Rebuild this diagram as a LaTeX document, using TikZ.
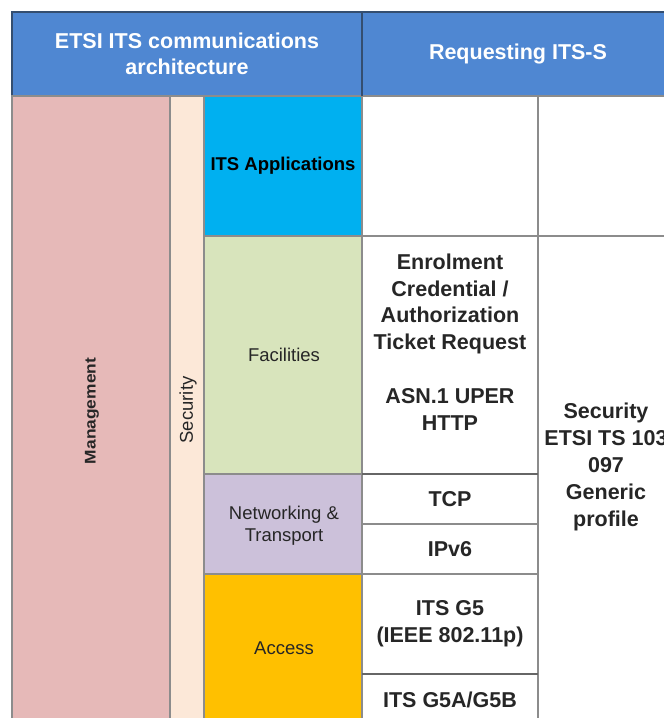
\documentclass[tikz,border=0pt]{standalone}
\usepackage{fontspec}
\setmainfont{Liberation Sans}
\definecolor{hdrblue}{RGB}{79,135,210}
\definecolor{hdrline}{RGB}{52,78,112}
\definecolor{gridgray}{RGB}{140,140,140}
\definecolor{mgmtpink}{RGB}{230,185,184}
\definecolor{secpeach}{RGB}{252,232,216}
\definecolor{appcyan}{RGB}{0,176,240}
\definecolor{facgreen}{RGB}{216,228,188}
\definecolor{netpurple}{RGB}{204,193,218}
\definecolor{accyellow}{RGB}{255,192,0}
\definecolor{txtdark}{RGB}{38,38,38}
\begin{document}
\begin{tikzpicture}[x=1pt,y=-1pt,
  cell/.style={draw=gridgray, line width=1.3pt, inner sep=0pt, outer sep=0pt, anchor=north west},
  hdr/.style={cell, draw=hdrline, fill=hdrblue, text=white, align=center,
    font=\fontsize{21.5}{26}\selectfont\bfseries},
  layer/.style={text=txtdark, align=center, font=\fontsize{18.5}{22}\selectfont},
  proto/.style={text=txtdark, align=center, font=\fontsize{21.5}{26.8}\selectfont\bfseries}]
\useasboundingbox (0,0) rectangle (664,718);
\clip (0,0) rectangle (664,718);
\fill[white] (0,0) rectangle (664,718);
% header
\node[hdr, minimum width=350pt, minimum height=84pt] (h1) at (12,12) {ETSI ITS communications\\architecture};
\node[hdr, minimum width=330pt, minimum height=84pt] (h2) at (362,12) {};
\node[hdr, draw=none, fill=none, anchor=center] (h2t) at (518,54) {Requesting ITS-S};
% left columns
\node[cell, fill=mgmtpink, minimum width=158pt, minimum height=628pt] (mgmt) at (12,96) {};
\node[text=txtdark, rotate=90, font=\fontsize{15.5}{18}\selectfont\bfseries] (mgmtt) at (92,411) {\scalebox{1.12}[1]{Management}};
\node[cell, fill=secpeach, minimum width=34pt, minimum height=628pt] (sec) at (170,96) {};
\node[layer, rotate=90] (sect) at (188,410) {Security};
% layers
\node[cell, fill=appcyan, minimum width=158pt, minimum height=140pt, text=black, font=\fontsize{18.5}{22}\selectfont\bfseries] (apps) at (204,96) {ITS Applications};
\node[cell, fill=facgreen, minimum width=158pt, minimum height=238pt] (fac) at (204,236) {};
\node[layer] (fact) at (284,355) {Facilities};
\node[cell, fill=netpurple, minimum width=158pt, minimum height=100pt] (net) at (204,474) {};
\node[layer] (nett) at (284,526) {Networking \&\\Transport};
\node[cell, fill=accyellow, minimum width=158pt, minimum height=148pt] (acc) at (204,574) {};
\node[layer] (acct) at (284,648) {Access};
% requesting ITS-S column
\node[cell, fill=white, minimum width=176pt, minimum height=140pt] (c4a) at (362,96) {};
\node[cell, fill=white, minimum width=176pt, minimum height=238pt] (enrol) at (362,236) {};
\node[proto] (enrolt) at (450,342) {Enrolment\\Credential /\\Authorization\\Ticket Request\\[26.8pt]ASN.1 UPER\\HTTP};
\node[cell, fill=white, minimum width=176pt, minimum height=50pt, proto] (tcp) at (362,474) {TCP};
\node[cell, fill=white, minimum width=176pt, minimum height=50pt, proto] (ipv6) at (362,524) {IPv6};
\node[cell, fill=white, minimum width=176pt, minimum height=100pt, proto] (g5) at (362,574) {ITS G5\\(IEEE 802.11p)};
\node[cell, fill=white, minimum width=176pt, minimum height=52pt, proto] (g5ab) at (362,674) {ITS G5A/G5B};
\node[cell, fill=white, minimum width=136pt, minimum height=140pt] (c5a) at (538,96) {};
\node[cell, fill=white, minimum width=136pt, minimum height=490pt] (secp) at (538,236) {};
\node[proto] (secpt) at (606,467) {Security\\ETSI TS 103\\097\\Generic\\profile};
% emphasised separators
\draw[line width=2.2pt, draw=black!60] (tcp.north west) -- (tcp.north east);
\draw[line width=2.2pt, draw=black!60] (g5ab.north west) -- (g5ab.north east);
\draw[line width=1.3pt, draw=hdrline] (h1.north east) -- (h1.south east);
\end{tikzpicture}
\end{document}
